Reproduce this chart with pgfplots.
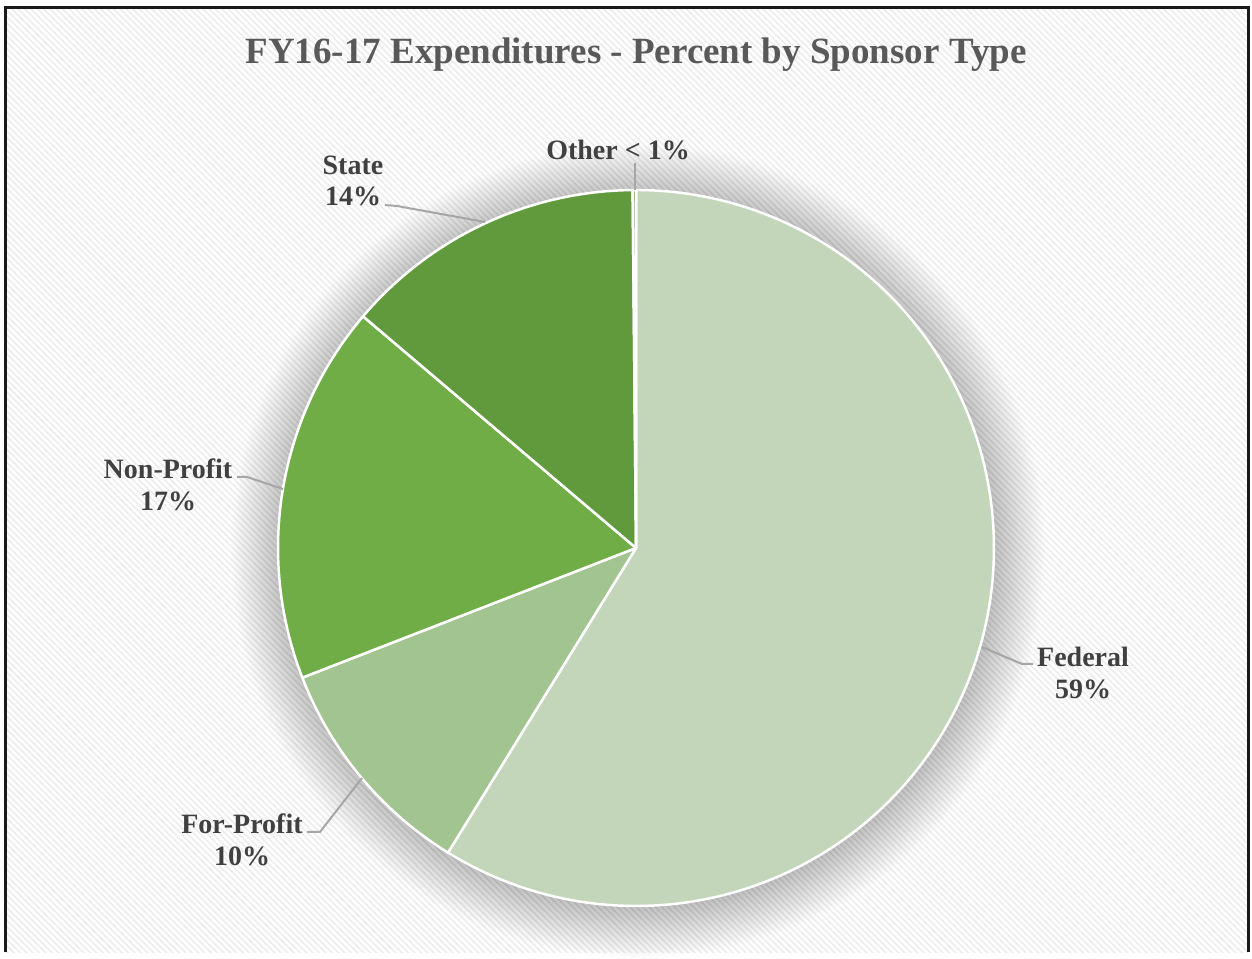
\documentclass[border=0pt]{standalone}
\usepackage{fontspec}
\setmainfont{Liberation Serif}
\usepackage{pgfplots}
\pgfplotsset{compat=1.18}
\usetikzlibrary{patterns.meta}
\definecolor{cFed}{HTML}{C3D6BA}
\definecolor{cFP}{HTML}{A2C490}
\definecolor{cNP}{HTML}{70AD47}
\definecolor{cSt}{HTML}{609A3D}
\definecolor{cOth}{HTML}{8FB57A}
\definecolor{txt}{HTML}{404040}
\definecolor{ttl}{HTML}{595959}
\definecolor{lead}{HTML}{A6A6A6}
\begin{document}
\begin{tikzpicture}
% percentages (clockwise from 12 o'clock)
\pgfmathsetmacro{\vFed}{58.8}
\pgfmathsetmacro{\vFP}{10.3}
\pgfmathsetmacro{\vNP}{17.1}
\pgfmathsetmacro{\vSt}{13.65}
\pgfmathsetmacro{\vOth}{0.15}
\pgfmathsetmacro{\aO}{90}
\pgfmathsetmacro{\aI}{\aO-3.6*\vFed}
\pgfmathsetmacro{\aII}{\aI-3.6*\vFP}
\pgfmathsetmacro{\aIII}{\aII-3.6*\vNP}
\pgfmathsetmacro{\aIV}{\aIII-3.6*\vSt}
\pgfmathsetmacro{\aV}{\aIV-3.6*\vOth}
\begin{axis}[x=1pt,y=1pt,xmin=0,xmax=1252,ymin=0,ymax=952,
  hide axis,clip=false,scale only axis,
  every axis plot/.append style={draw=white,line width=2.5pt,line join=round}]
% background
\fill[white] (axis cs:0,0) rectangle (axis cs:1252,952);
\fill[pattern={Lines[angle=-45,distance=4.5pt,line width=1.6pt]},pattern color=black!7]
  (axis cs:5,0) rectangle (axis cs:1248,944);
\draw[black!90,line width=3pt] (axis cs:5,0) -- (axis cs:5,944) -- (axis cs:1248,944) -- (axis cs:1248,0);
% soft shadow
\pgfplotsinvokeforeach{1,...,30}{
  \fill[black,opacity=0.009] (axis cs:638,401) circle[radius={356+1.7*#1}];
}
% slices
\addplot[fill=cFed,domain=\aI:\aO,samples=150] ({636+358*cos(x)},{404+358*sin(x)}) -- (axis cs:636,404) -- cycle;
\addplot[fill=cFP,domain=\aII:\aI,samples=40] ({636+358*cos(x)},{404+358*sin(x)}) -- (axis cs:636,404) -- cycle;
\addplot[fill=cNP,domain=\aIII:\aII,samples=60] ({636+358*cos(x)},{404+358*sin(x)}) -- (axis cs:636,404) -- cycle;
\addplot[fill=cSt,domain=\aIV:\aIII,samples=50] ({636+358*cos(x)},{404+358*sin(x)}) -- (axis cs:636,404) -- cycle;
\addplot[fill=cOth,domain=\aV:\aIV,samples=3] ({636+358*cos(x)},{404+358*sin(x)}) -- (axis cs:636,404) -- cycle;
% leader lines
\draw[lead,line width=2pt] (axis cs:635,789) -- (axis cs:635,762);
\draw[lead,line width=2pt] (axis cs:385,747) -- (axis cs:397,746) -- (axis cs:485,730);
\draw[lead,line width=2pt] (axis cs:237,475) -- (axis cs:247,475) -- (axis cs:283,463);
\draw[lead,line width=2pt] (axis cs:982,305) -- (axis cs:1022,288) -- (axis cs:1033,288);
\draw[lead,line width=2pt] (axis cs:307,120) -- (axis cs:320,120) -- (axis cs:362,174);
% labels
\tikzset{lbl/.style={text=txt,align=center,font=\fontsize{28}{31.5}\selectfont\bfseries,inner sep=0pt}}
\node[text=ttl,font=\fontsize{37}{40}\selectfont\bfseries,inner sep=0pt] at (axis cs:636,897) {FY16-17 Expenditures - Percent by Sponsor Type};
\node[lbl] at (axis cs:618,802) {Other < 1\%};
\node[lbl] at (axis cs:353,771) {State\\14\%};
\node[lbl] at (axis cs:168,467) {Non-Profit\\17\%};
\node[lbl] at (axis cs:1083,279) {Federal\\59\%};
\node[lbl] at (axis cs:242,112) {For-Profit\\10\%};
\end{axis}
\end{tikzpicture}
\end{document}
